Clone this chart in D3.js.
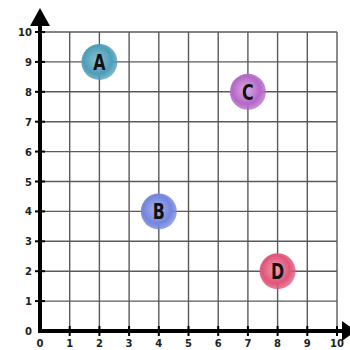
<!DOCTYPE html>
<html>
<head>
<meta charset="utf-8">
<script src="https://cdn.jsdelivr.net/npm/d3@7"></script>
<style>
  body { margin: 0; background: #fff; }
  svg { display: block; }
</style>
</head>
<body>
<div id="chart"></div>
<script>
// data
var labels = ["A", "B", "C", "D"];
var xValues = [2, 4, 7, 8];
var yValues = [9, 4, 8, 2];
var fills = ["#4f9db8", "#7485dc", "#b468c8", "#e0557a"];
var lights = ["#8cc3d6", "#aab5ef", "#dcaee6", "#f3a0b5"];
var ticks = [0, 1, 2, 3, 4, 5, 6, 7, 8, 9, 10];

var width = 350, height = 350;

var svg = d3.select("#chart").append("svg")
  .attr("width", width)
  .attr("height", height);

var x = d3.scaleLinear().domain([0, 10]).range([40, 337]);
var y = d3.scaleLinear().domain([0, 10]).range([331, 32]);

// watercolor-ish gradients
var defs = svg.append("defs");
labels.forEach(function(l, i) {
  var g = defs.append("radialGradient")
    .attr("id", "grad" + i)
    .attr("cx", "45%").attr("cy", "45%").attr("r", "55%");
  g.append("stop").attr("offset", "0%").attr("stop-color", lights[i]);
  g.append("stop").attr("offset", "70%").attr("stop-color", fills[i]);
  g.append("stop").attr("offset", "100%").attr("stop-color", fills[i]).attr("stop-opacity", 0.75);
});

// grid
var grid = svg.append("g");
ticks.slice(1).forEach(function(t) {
  grid.append("line")
    .attr("x1", x(t)).attr("x2", x(t))
    .attr("y1", y(0)).attr("y2", y(10))
    .attr("stroke", "#5a5a5a").attr("stroke-width", 1.4);
  grid.append("line")
    .attr("x1", x(0)).attr("x2", x(10))
    .attr("y1", y(t)).attr("y2", y(t))
    .attr("stroke", "#5a5a5a").attr("stroke-width", 1.4);
});

// axes
svg.append("line")
  .attr("x1", x(0)).attr("x2", 344)
  .attr("y1", y(0)).attr("y2", y(0))
  .attr("stroke", "#000").attr("stroke-width", 4);
svg.append("line")
  .attr("x1", x(0)).attr("x2", x(0))
  .attr("y1", y(0) + 2).attr("y2", 24)
  .attr("stroke", "#000").attr("stroke-width", 4);

// arrow heads
svg.append("path")
  .attr("d", "M" + (x(0) - 10) + ",26 L" + x(0) + ",8 L" + (x(0) + 10) + ",26 Z")
  .attr("fill", "#000");
svg.append("path")
  .attr("d", "M342," + (y(0) - 10) + " L356," + y(0) + " L342," + (y(0) + 10) + " Z")
  .attr("fill", "#000");

// tick marks
ticks.slice(1).forEach(function(t) {
  svg.append("line")
    .attr("x1", x(t)).attr("x2", x(t))
    .attr("y1", y(0) - 5).attr("y2", y(0) + 5)
    .attr("stroke", "#000").attr("stroke-width", 2);
  svg.append("line")
    .attr("x1", x(0) - 5).attr("x2", x(0) + 5)
    .attr("y1", y(t)).attr("y2", y(t))
    .attr("stroke", "#000").attr("stroke-width", 2);
});

// tick labels
svg.append("g").selectAll("text.xl")
  .data(ticks).enter().append("text")
  .attr("x", function(d) { return x(d); })
  .attr("y", y(0) + 16)
  .attr("text-anchor", "middle")
  .style("font-family", "'DejaVu Sans', sans-serif")
  .style("font-weight", "bold")
  .style("font-size", "10px")
  .style("fill", "#222")
  .text(function(d) { return d; });

svg.append("g").selectAll("text.yl")
  .data(ticks).enter().append("text")
  .attr("x", x(0) - 8)
  .attr("y", function(d) { return y(d) + 4; })
  .attr("text-anchor", "end")
  .style("font-family", "'DejaVu Sans', sans-serif")
  .style("font-weight", "bold")
  .style("font-size", "10px")
  .style("fill", "#222")
  .text(function(d) { return d; });

// points
var pts = svg.append("g").selectAll("g")
  .data(labels).enter().append("g")
  .attr("transform", function(d, i) {
    return "translate(" + x(xValues[i]) + "," + y(yValues[i]) + ")";
  });

pts.append("circle")
  .attr("r", 18)
  .attr("fill", function(d, i) { return "url(#grad" + i + ")"; });

pts.append("text")
  .attr("text-anchor", "middle")
  .attr("dy", "0.36em")
  .attr("transform", "scale(0.72,1)")
  .style("font-family", "'DejaVu Sans', sans-serif")
  .style("font-weight", "bold")
  .style("font-size", "22px")
  .style("fill", "#111")
  .text(function(d) { return d; });
</script>
</body>
</html>
